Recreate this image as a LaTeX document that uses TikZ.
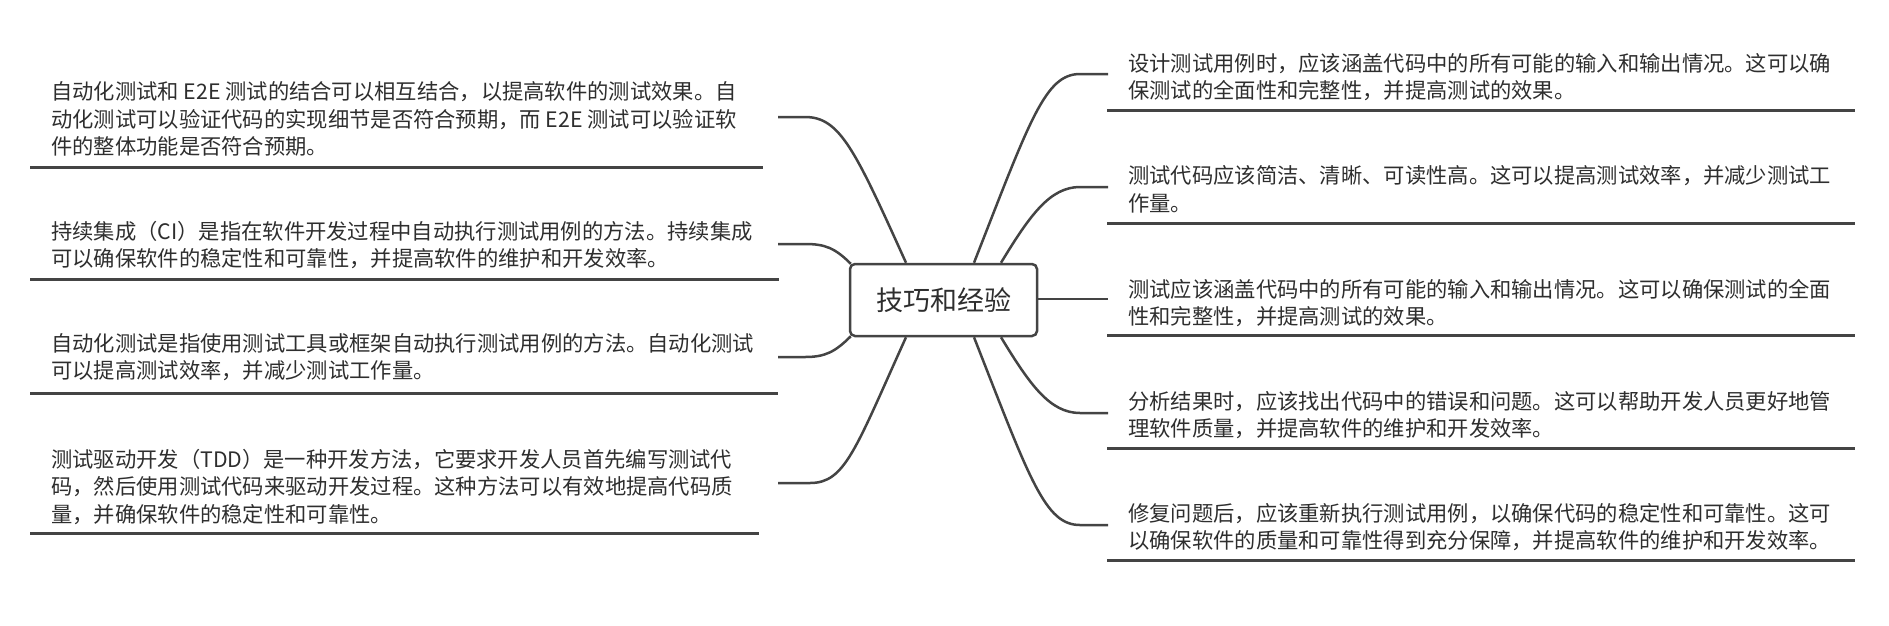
\documentclass[tikz,border=0pt]{standalone}
\usepackage{fontspec}
\setmainfont{Noto Sans CJK SC}
\definecolor{ink}{HTML}{2E2E2E}
\definecolor{lin}{HTML}{444444}
\begin{document}
\begin{tikzpicture}[x=1pt,y=-1pt,
  topic/.style={font=\fontsize{21.3pt}{27.5pt}\selectfont, text=ink, align=left, inner xsep=21pt, inner ysep=0pt, anchor=west},
  uline/.style={draw=lin, line width=3pt},
  conn/.style={draw=lin, line width=2.5pt},
  rootbox/.style={draw=lin, line width=2.5pt, rounded corners=5pt, minimum width=187pt, minimum height=72pt, inner sep=0pt, font=\fontsize{27pt}{32pt}\selectfont, text=ink}]
\useasboundingbox (0,0) rectangle (1889,625);

% root
\node[rootbox] (root) at (943.5,300) {技巧和经验};

% left topics
\node[topic] (L1) at (30,119) {自动化测试和 E2E 测试的结合可以相互结合，以提高软件的测试效果。自\\动化测试可以验证代码的实现细节是否符合预期，而 E2E 测试可以验证软\\件的整体功能是否符合预期。};
\node[topic] (L2) at (30,245) {持续集成（CI）是指在软件开发过程中自动执行测试用例的方法。持续集成\\可以确保软件的稳定性和可靠性，并提高软件的维护和开发效率。};
\node[topic] (L3) at (30,357) {自动化测试是指使用测试工具或框架自动执行测试用例的方法。自动化测试\\可以提高测试效率，并减少测试工作量。};
\node[topic] (L4) at (30,487) {测试驱动开发（TDD）是一种开发方法，它要求开发人员首先编写测试代\\码，然后使用测试代码来驱动开发过程。这种方法可以有效地提高代码质\\量，并确保软件的稳定性和可靠性。};

% right topics
\node[topic] (R1) at (1107,77) {设计测试用例时，应该涵盖代码中的所有可能的输入和输出情况。这可以确\\保测试的全面性和完整性，并提高测试的效果。};
\node[topic] (R2) at (1107,189.5) {测试代码应该简洁、清晰、可读性高。这可以提高测试效率，并减少测试工\\作量。};
\node[topic] (R3) at (1107,303) {测试应该涵盖代码中的所有可能的输入和输出情况。这可以确保测试的全面\\性和完整性，并提高测试的效果。};
\node[topic] (R4) at (1107,415) {分析结果时，应该找出代码中的错误和问题。这可以帮助开发人员更好地管\\理软件质量，并提高软件的维护和开发效率。};
\node[topic] (R5) at (1107,527) {修复问题后，应该重新执行测试用例，以确保代码的稳定性和可靠性。这可\\以确保软件的质量和可靠性得到充分保障，并提高软件的维护和开发效率。};

% underline right ends
\coordinate (uL1) at (763,167);
\coordinate (uL2) at (779,279);
\coordinate (uL3) at (778,393);
\coordinate (uL4) at (759,533);
\coordinate (uR1) at (1855,110.5);
\coordinate (uR2) at (1855,223);
\coordinate (uR3) at (1855,335);
\coordinate (uR4) at (1855,448);
\coordinate (uR5) at (1855,560.5);

\foreach \n in {L1,L2,L3,L4,R1,R2,R3,R4,R5}{
  \draw[uline] (\n.west |- u\n) -- (u\n);
}

% connector ends
\coordinate (cL1) at (778,117);
\coordinate (cL2) at (778,244);
\coordinate (cL3) at (778,357);
\coordinate (cL4) at (778,483);
\coordinate (cR1) at (1108,74);
\coordinate (cR2) at (1108,187);
\coordinate (cR3) at (1108,299);
\coordinate (cR4) at (1108,413);
\coordinate (cR5) at (1108,525);

% connectors
\draw[conn] ([xshift=-37.5pt]root.north) .. controls (855,150) and (840,117) .. (805,117) -- (cL1);
\draw[conn] ([xshift=2pt,yshift=-1pt]root.north west) .. controls (835,248) and (825,244) .. (805,244) -- (cL2);
\draw[conn] ([xshift=2pt,yshift=1pt]root.south west) .. controls (835,352) and (825,357) .. (805,357) -- (cL3);
\draw[conn] ([xshift=-37.5pt]root.south) .. controls (855,450) and (845,483) .. (810,483) -- (cL4);
\draw[conn] ([xshift=30.5pt]root.north) .. controls (1030,120) and (1045,74) .. (1080,74) -- (cR1);
\draw[conn] ([xshift=57.5pt]root.north) .. controls (1030,215) and (1050,187) .. (1080,187) -- (cR2);
\draw[conn] (root.east |- cR3) -- (cR3);
\draw[conn] ([xshift=57.5pt]root.south) .. controls (1030,385) and (1050,413) .. (1080,413) -- (cR4);
\draw[conn] ([xshift=30.5pt]root.south) .. controls (1030,480) and (1045,525) .. (1080,525) -- (cR5);
\end{tikzpicture}
\end{document}
